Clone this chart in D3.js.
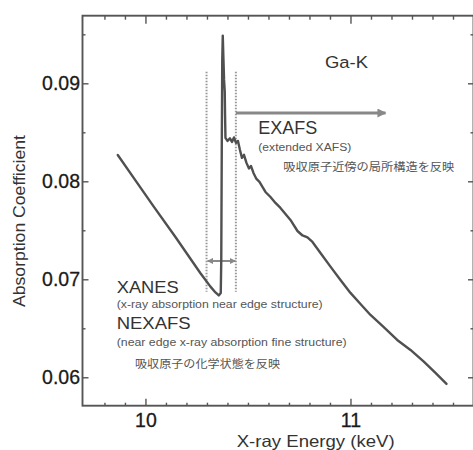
<!DOCTYPE html>
<html>
<head>
<meta charset="utf-8">
<script src="https://cdn.jsdelivr.net/npm/d3@7"></script>
<style>
  html, body { margin: 0; padding: 0; background: #fff; }
  svg { display: block; }
  text { font-family: "Liberation Sans", Arial, sans-serif; }
  .cjk { font-family: "Noto Sans CJK JP", sans-serif; }
</style>
</head>
<body>
<svg id="chart" width="473" height="450"></svg>
<script>
// ---- data ----
const energy = [9.865, 9.9512, 10.0405, 10.1463, 10.2683, 10.3171, 10.3415, 10.3576, 10.3673, 10.3698,
  10.3722, 10.3746, 10.3771, 10.3805, 10.3834, 10.3868, 10.3883, 10.3902, 10.400, 10.4122,
  10.4220, 10.4317, 10.4415, 10.4512, 10.4610, 10.4707, 10.4805, 10.4927, 10.5049, 10.5146,
  10.5268, 10.5415, 10.5561, 10.5707, 10.5854, 10.6098, 10.6341, 10.6585, 10.6829, 10.7073,
  10.7415, 10.7659, 10.7902, 10.8146, 10.8537, 10.9024, 10.9512, 11.000, 11.0488, 11.0976,
  11.1610, 11.2278, 11.2927, 11.3576, 11.4146, 11.4683];
const absorption = [0.08269, 0.08009, 0.07741, 0.07432, 0.07062, 0.06925, 0.06866, 0.06835, 0.06860, 0.07197,
  0.08320, 0.09239, 0.09487, 0.09239, 0.09035, 0.08915, 0.08677, 0.08443, 0.08412, 0.08438,
  0.08402, 0.08448, 0.08392, 0.08412, 0.08320, 0.08239, 0.08270, 0.08188, 0.08131, 0.08157,
  0.08085, 0.08024, 0.07994, 0.07943, 0.07891, 0.07840, 0.07779, 0.07728, 0.07667, 0.07606,
  0.07493, 0.07447, 0.07427, 0.07381, 0.07269, 0.07129, 0.06993, 0.06861, 0.06748, 0.06636,
  0.06514, 0.06381, 0.06279, 0.06159, 0.06044, 0.05932];

const xMajorTicks = [10, 11];
const xTickLabels = ["10", "11"];
const xMinorTicks = [9.8, 9.9, 10.1, 10.2, 10.3, 10.4, 10.5, 10.6, 10.7, 10.8, 10.9, 11.1, 11.2, 11.3, 11.4, 11.5];
const yMajorTicks = [0.06, 0.07, 0.08, 0.09];
const yTickLabels = ["0.06", "0.07", "0.08", "0.09"];
const yMinorTicks = [0.065, 0.075, 0.085, 0.095];

const regionBounds = [10.298, 10.441];        // XANES / EXAFS boundary energies
const regionBoundY = [0.06873, 0.09119];      // vertical extent of dotted boundaries
const xanesArrowY = 0.07187;
const exafsArrow = { x0: 10.441, x1: 11.171, y: 0.08697 };

const xTitle = "X-ray Energy (keV)";
const yTitle = "Absorption Coefficient";
const edgeLabel = "Ga-K";

// ---- layout ----
const svg = d3.select("#chart");
const L = 82.5, R = 473.5, T = 15.7, B = 405.7;
const x = d3.scaleLinear().domain([9.693, 11.6]).range([L, R]);
const y = d3.scaleLinear().domain([0.0571, 0.0969]).range([B, T]);

svg.append("rect").attr("width", 473).attr("height", 450).attr("fill", "#fff");

const axisColor = "#555";
const fmtLabel = (arr, labels) => (d) => labels[arr.indexOf(d)];

function styleAxis(g) {
  g.select(".domain").remove();
  g.selectAll("line").attr("stroke", axisColor).attr("stroke-width", 1.4);
  g.selectAll("text").attr("fill", "#1a1a1a").style("font-size", "19.5px")
    .style("font-family", "'Liberation Sans', Arial, sans-serif")
    .attr("stroke", "#1a1a1a").attr("stroke-width", 0.3);
}

// bottom
svg.append("g").attr("transform", `translate(0,${B})`)
  .call(d3.axisBottom(x).tickValues(xMinorTicks).tickSize(-3).tickFormat(""))
  .call(styleAxis);
svg.append("g").attr("transform", `translate(0,${B})`)
  .call(d3.axisBottom(x).tickValues(xMajorTicks).tickSize(-7).tickPadding(7)
    .tickFormat(fmtLabel(xMajorTicks, xTickLabels)))
  .call(styleAxis);
// top
svg.append("g").attr("transform", `translate(0,${T})`)
  .call(d3.axisTop(x).tickValues(xMinorTicks).tickSize(-4).tickFormat(""))
  .call(styleAxis);
svg.append("g").attr("transform", `translate(0,${T})`)
  .call(d3.axisTop(x).tickValues(xMajorTicks).tickSize(-8).tickFormat(""))
  .call(styleAxis);
// left
svg.append("g").attr("transform", `translate(${L},0)`)
  .call(d3.axisLeft(y).tickValues(yMinorTicks).tickSize(-3).tickFormat(""))
  .call(styleAxis);
svg.append("g").attr("transform", `translate(${L},0)`)
  .call(d3.axisLeft(y).tickValues(yMajorTicks).tickSize(-6).tickPadding(2.5)
    .tickFormat(fmtLabel(yMajorTicks, yTickLabels)))
  .call(styleAxis);
// right
svg.append("g").attr("transform", `translate(${R},0)`)
  .call(d3.axisRight(y).tickValues(yMinorTicks).tickSize(-3).tickFormat(""))
  .call(styleAxis);
svg.append("g").attr("transform", `translate(${R},0)`)
  .call(d3.axisRight(y).tickValues(yMajorTicks).tickSize(-5.5).tickFormat(""))
  .call(styleAxis);

// frame
svg.append("rect").attr("x", L).attr("y", T).attr("width", R - L).attr("height", B - T)
  .attr("fill", "none").attr("stroke", axisColor).attr("stroke-width", 1.9);

// axis titles
svg.append("text").attr("x", 236.7).attr("y", 446.7).attr("fill", "#333")
  .style("font-size", "16.5px").attr("textLength", 158).attr("lengthAdjust", "spacingAndGlyphs")
  .text(xTitle);
svg.append("text").attr("transform", "translate(25,307) rotate(-90)").attr("fill", "#333")
  .style("font-size", "16px").attr("textLength", 172).attr("lengthAdjust", "spacingAndGlyphs")
  .text(yTitle);

// dotted region boundaries
svg.selectAll("line.bound").data(regionBounds).enter().append("line")
  .attr("class", "bound")
  .attr("x1", d => x(d)).attr("x2", d => x(d))
  .attr("y1", y(regionBoundY[1])).attr("y2", y(regionBoundY[0]))
  .attr("stroke", "#999").attr("stroke-width", 2).attr("stroke-dasharray", "1.6,1.4");

// arrows
const defs = svg.append("defs");
defs.append("marker").attr("id", "headS").attr("viewBox", "0 0 10 10").attr("refX", 9).attr("refY", 5)
  .attr("markerWidth", 6.5).attr("markerHeight", 6.5).attr("markerUnits", "userSpaceOnUse")
  .attr("orient", "auto-start-reverse")
  .append("path").attr("d", "M0,0 L10,5 L0,10 Z").attr("fill", "#888");
defs.append("marker").attr("id", "headL").attr("viewBox", "0 0 10 10").attr("refX", 9).attr("refY", 5)
  .attr("markerWidth", 10).attr("markerHeight", 9).attr("markerUnits", "userSpaceOnUse")
  .attr("orient", "auto")
  .append("path").attr("d", "M0,0 L10,5 L0,10 Z").attr("fill", "#888");

svg.append("line")
  .attr("x1", x(regionBounds[0]) + 1).attr("x2", x(regionBounds[1]) - 0.5)
  .attr("y1", y(xanesArrowY)).attr("y2", y(xanesArrowY))
  .attr("stroke", "#888").attr("stroke-width", 2)
  .attr("marker-start", "url(#headS)").attr("marker-end", "url(#headS)");

svg.append("line")
  .attr("x1", x(exafsArrow.x0)).attr("x2", x(exafsArrow.x1))
  .attr("y1", y(exafsArrow.y)).attr("y2", y(exafsArrow.y))
  .attr("stroke", "#888").attr("stroke-width", 3.2)
  .attr("marker-end", "url(#headL)");

// spectrum
const pts = energy.map((e, i) => [e, absorption[i]]);
svg.append("path").datum(pts)
  .attr("d", d3.line().x(d => x(d[0])).y(d => y(d[1])).curve(d3.curveLinear))
  .attr("fill", "none").attr("stroke", "#505050").attr("stroke-width", 2.4)
  .attr("stroke-linejoin", "round").attr("stroke-linecap", "round");

// annotations
function label(txt, px, py, size, color, len, cls) {
  const t = svg.append("text").attr("x", px).attr("y", py).attr("fill", color)
    .style("font-size", size + "px").text(txt);
  if (len) t.attr("textLength", len).attr("lengthAdjust", "spacingAndGlyphs");
  if (cls) t.attr("class", cls);
  return t;
}
label(edgeLabel, 325, 68.3, 16.3, "#333", 43);
label("EXAFS", 258.3, 134.3, 17.5, "#333", 59);
label("(extended XAFS)", 258.3, 150.7, 10, "#555", 93);
label("吸収原子近傍の局所構造を反映", 283.3, 170.7, 11, "#555", 171, "cjk");
label("XANES", 116.7, 292.7, 16.5, "#333", 62);
label("(x-ray absorption near edge structure)", 116.7, 308.3, 10.5, "#555", 206);
label("NEXAFS", 116.7, 329.3, 16.5, "#333", 74);
label("(near edge x-ray absorption fine structure)", 116.7, 346, 10.5, "#555", 230);
label("吸収原子の化学状態を反映", 135, 367.7, 11, "#555", 145, "cjk");
</script>
</body>
</html>
